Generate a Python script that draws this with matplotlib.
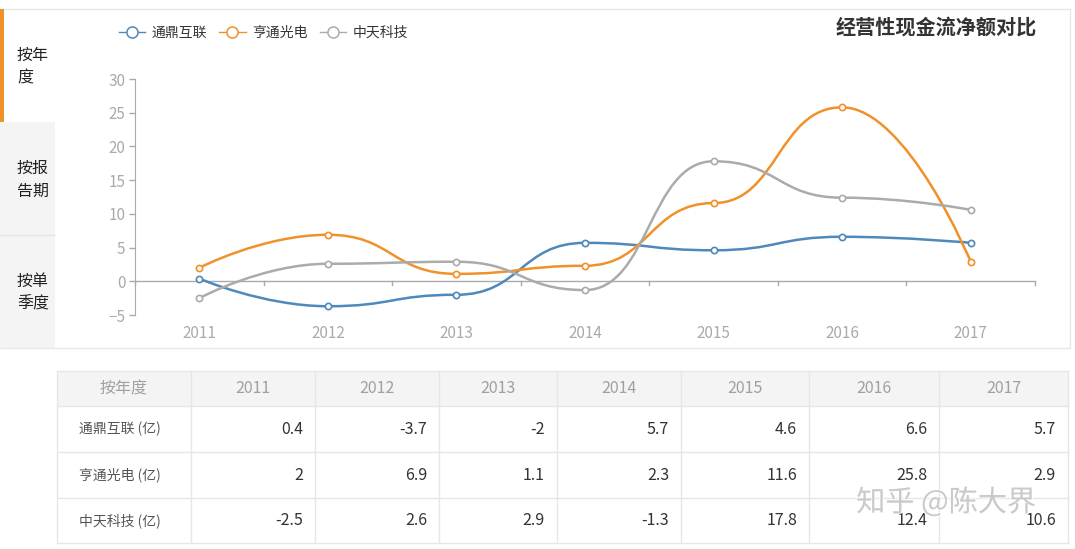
import numpy as np
import matplotlib
matplotlib.use("Agg")
import matplotlib.pyplot as plt
from matplotlib.path import Path
from matplotlib.patches import PathPatch, Rectangle
from matplotlib.lines import Line2D
import matplotlib.patheffects as pe

plt.rcParams['font.family'] = ['Noto Sans CJK SC', 'DejaVu Sans']

# data
years = ['2011', '2012', '2013', '2014', '2015', '2016', '2017']
tongding = [0.4, -3.7, -2, 5.7, 4.6, 6.6, 5.7]
hengtong = [2, 6.9, 1.1, 2.3, 11.6, 25.8, 2.9]
zhongtian = [-2.5, 2.6, 2.9, -1.3, 17.8, 12.4, 10.6]
series_names = ['通鼎互联', '亨通光电', '中天科技']
colors = ['#4f89bb', '#f0912a', '#ababab']
title = '经营性现金流净额对比'
tabs = ['按年\n度', '按报\n告期', '按单\n季度']
unit = ' (亿)'

W, H = 1075, 549
fig = plt.figure(figsize=(W / 100, H / 100), dpi=100)

# background / frame layer in pixel coordinates
bg = fig.add_axes([0, 0, 1, 1], zorder=0)
bg.set_xlim(0, W)
bg.set_ylim(H, 0)
bg.axis('off')

# chart panel
bg.add_patch(Rectangle((0, 9), 1070, 339, facecolor='white', edgecolor='#e8e8e8', lw=1))
bg.add_patch(Rectangle((0, 122), 55, 226, facecolor='#f4f4f4', edgecolor='none'))
bg.plot([0, 55], [235, 235], color='#e6e6e6', lw=1)
bg.add_patch(Rectangle((0, 9), 4, 113, facecolor='#f0912a', edgecolor='none'))
for i, t in enumerate(tabs):
    bg.text(17, 67 + i * 113, t, fontsize=11.5, color='#222222', ha='left', va='center',
            linespacing=1.45)

bg.text(1037, 27, title, fontsize=14.5, fontweight='bold', color='#333333', ha='right', va='center')

# table
col_edges = [57, 191, 315, 439, 557, 681, 809, 939, 1068]
row_edges = [371, 406, 452, 498, 543]
bg.add_patch(Rectangle((col_edges[0], row_edges[0]), col_edges[-1] - col_edges[0],
                       row_edges[1] - row_edges[0], facecolor='#f4f4f4', edgecolor='none'))
for y in row_edges:
    bg.plot([col_edges[0], col_edges[-1]], [y, y], color='#e6e6e6', lw=1)
for x in col_edges:
    bg.plot([x, x], [row_edges[0], row_edges[-1]], color='#e6e6e6', lw=1)

hy = (row_edges[0] + row_edges[1]) / 2
bg.text((col_edges[0] + col_edges[1]) / 2, hy, '按年度', fontsize=11.5, color='#a0a0a0',
        ha='center', va='center')
for j, yr in enumerate(years):
    bg.text((col_edges[j + 1] + col_edges[j + 2]) / 2, hy, yr, fontsize=11.5, color='#a0a0a0',
            ha='center', va='center')
for i, (name, vals) in enumerate(zip(series_names, [tongding, hengtong, zhongtian])):
    cy = (row_edges[i + 1] + row_edges[i + 2]) / 2
    bg.text((col_edges[0] + col_edges[1]) / 2 - 4, cy, name + unit, fontsize=10, color='#555555',
            ha='center', va='center')
    for j, v in enumerate(vals):
        bg.text(col_edges[j + 2] - 12, cy, '{:g}'.format(v), fontsize=11.5, color='#333333',
                ha='right', va='center')

# watermark
bg.text(946, 503, '知乎 @陈大界', fontsize=21, color='#c4c4c4', alpha=0.85,
        ha='center', va='center', zorder=5,
        path_effects=[pe.withStroke(linewidth=2, foreground='white', alpha=0.6)])

# chart axes
ax = fig.add_axes([135 / W, (H - 315) / H, 900 / W, 236 / H], zorder=2)
ax.patch.set_alpha(0)
x = np.arange(len(years))
ax.set_xlim(-0.5, len(years) - 0.5)
ax.set_ylim(-5, 30)
ax.set_yticks(np.arange(-5, 31, 5))
ax.tick_params(axis='y', colors='#aaaaaa', labelcolor='#aaaaaa', labelsize=11, length=4, width=1, pad=3)
ax.set_xticks(x)
ax.set_xticklabels(years)
ax.tick_params(axis='x', length=0, labelcolor='#aaaaaa', labelsize=11, pad=7)
for s in ['top', 'right', 'bottom']:
    ax.spines[s].set_visible(False)
ax.spines['left'].set_color('#aaaaaa')
ax.axhline(0, color='#aaaaaa', lw=1, zorder=1)
# category boundary ticks on the zero line
for b in np.arange(-0.5, len(years), 1.0):
    ax.plot([b, b], [0, -0.55], color='#aaaaaa', lw=1, clip_on=False, zorder=1)


def smooth_path(xs, ys, smooth=0.5):
    # echarts-like smoothing with horizontal tangents at inner points
    pts = np.column_stack([xs, ys]).astype(float)
    n = len(pts)
    verts = [pts[0]]
    codes = [Path.MOVETO]
    for i in range(n - 1):
        p0, p1 = pts[i], pts[i + 1]
        dx = p1[0] - p0[0]
        c0 = p0.copy() if i == 0 else np.array([p0[0] + dx * smooth, p0[1]])
        c1 = p1.copy() if i == n - 2 else np.array([p1[0] - dx * smooth, p1[1]])
        verts += [c0, c1, p1]
        codes += [Path.CURVE4] * 3
    return Path(np.array(verts), codes)


handles = []
for name, vals, c in zip(series_names, [tongding, hengtong, zhongtian], colors):
    ax.add_patch(PathPatch(smooth_path(x, vals), facecolor='none', edgecolor=c, lw=1.8, zorder=3))
    ax.plot(x, vals, 'o', ls='none', ms=4.5, mfc='white', mec=c, mew=1.2, zorder=4)
    handles.append(Line2D([], [], color=c, lw=1.0, marker='o', ms=8, mfc='white', mec=c, mew=1.1))

fig.legend(handles, series_names, loc='center left', bbox_to_anchor=(106 / W, 1 - 33 / H),
           ncol=3, frameon=False, fontsize=10, handlelength=1.9, handletextpad=0.45,
           columnspacing=0.9, labelcolor='#333333')

fig.savefig('out.png', dpi=100)
